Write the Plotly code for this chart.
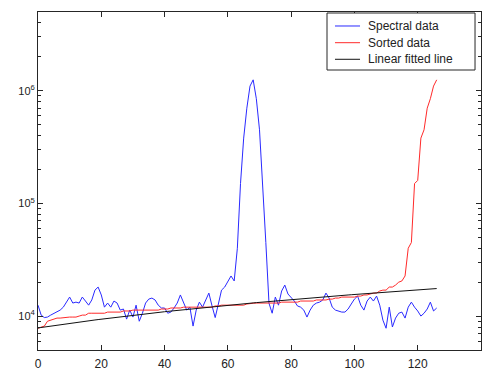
import numpy as np
import plotly.graph_objects as go

# Channel index and measured spectral intensity
channel = list(range(0, 127))
spectral_data = [
    12500, 10200, 9700, 9800, 10200, 10600, 10850, 11300, 12000, 13300,
    14750, 13050, 13300, 13050, 14750, 13600, 12500, 13900, 17000, 18100,
    15400, 12000, 13050, 12000, 13600, 13050, 11300, 11550, 9400, 11300,
    9800, 12500, 9000, 10600, 13050, 14150, 14450, 13900, 12500, 11800,
    11800, 10600, 10850, 11800, 13050, 15400, 13050, 11300, 12000, 8150,
    11300, 13300, 12000, 13900, 16000, 12300, 9700, 12800, 17000, 18100,
    20000, 22700, 20500, 40000, 150000, 380000, 700000, 1100000, 1250000, 850000,
    450000, 160000, 45000, 13000, 10600, 14750, 12500, 16700, 18850, 15700,
    14750, 13600, 12300, 12000, 11300, 9800, 11300, 12500, 13050, 13300,
    13900, 16000, 14450, 12000, 11300, 11100, 10850, 10850, 11550, 12800,
    14150, 15050, 12500, 11300, 13600, 14750, 13600, 15050, 12500, 9200,
    7800, 12000, 8000, 9600, 10600, 10850, 9600, 12000, 13300, 12000,
    11100, 10000, 10600, 11550, 13300, 11100, 11800,
]

# The same intensities in ascending order
sorted_data = sorted(spectral_data)

# Straight-line fit: intensity = fit_intercept + fit_slope * channel
fit_intercept = 7850.0
fit_slope = 77.0
fitted_line = [fit_intercept + fit_slope * c for c in channel]

x_ticks = [0, 20, 40, 60, 80, 100, 120, 140]
y_ticks = [1e4, 1e5, 1e6]
y_tick_text = ["10<sup>4</sup>", "10<sup>5</sup>", "10<sup>6</sup>"]
y_minor = [m * 10 ** e for e in (3, 4, 5, 6) for m in range(2, 10)
           if 5000 <= m * 10 ** e <= 5e6]

series_names = ["Spectral data", "Sorted data", "Linear fitted line"]
series_colors = ["#2a2aff", "#ff2a2a", "#111111"]
series_values = [spectral_data, sorted_data, fitted_line]

font_family = "Liberation Sans, Arial, sans-serif"
frame_color = "#262626"
text_color = "#222222"

fig = go.Figure()
for name, color, values in zip(series_names, series_colors, series_values):
    fig.add_trace(go.Scatter(x=channel, y=values, mode="lines", name=name,
                             line=dict(color=color, width=1)))

# Boxed key in the upper-right corner of the axes
fig.add_shape(type="rect", xref="paper", yref="paper",
              x0=0.6524, x1=0.9865, y0=0.8284, y1=0.997,
              line=dict(color=frame_color, width=1), fillcolor="white",
              layer="above")
key_rows = [0.9586, 0.9092, 0.8601]
for name, color, row in zip(series_names, series_colors, key_rows):
    fig.add_shape(type="line", xref="paper", yref="paper",
                  x0=0.6704, x1=0.7269, y0=row, y1=row,
                  line=dict(color=color, width=1), layer="above")
    fig.add_annotation(xref="paper", yref="paper", x=0.7404, y=row,
                       xanchor="left", yanchor="middle", text=name,
                       showarrow=False,
                       font=dict(family=font_family, size=12, color=text_color))

fig.update_layout(
    width=488, height=370,
    margin=dict(l=38, r=7, t=12, b=20, autoexpand=False),
    paper_bgcolor="white", plot_bgcolor="white",
    font=dict(family=font_family, size=12, color=text_color),
    showlegend=False,
)
fig.update_xaxes(
    range=[0, 140], tickmode="array", tickvals=x_ticks,
    ticks="inside", ticklen=5, tickcolor=frame_color,
    showline=True, linecolor=frame_color, linewidth=1, mirror="ticks",
    showgrid=False, zeroline=False, ticklabelstandoff=3, automargin=False,
    tickfont=dict(size=12, color=text_color),
)
fig.update_yaxes(
    type="log", range=[np.log10(5000), np.log10(5e6)],
    tickmode="array", tickvals=y_ticks, ticktext=y_tick_text,
    ticks="inside", ticklen=5, tickcolor=frame_color,
    minor=dict(tickmode="array", tickvals=y_minor, ticks="inside",
               ticklen=3, tickcolor=frame_color, showgrid=False),
    showline=True, linecolor=frame_color, linewidth=1, mirror="ticks",
    showgrid=False, zeroline=False, automargin=False,
    tickfont=dict(size=11, color=text_color),
)

fig.write_html("out.html")
